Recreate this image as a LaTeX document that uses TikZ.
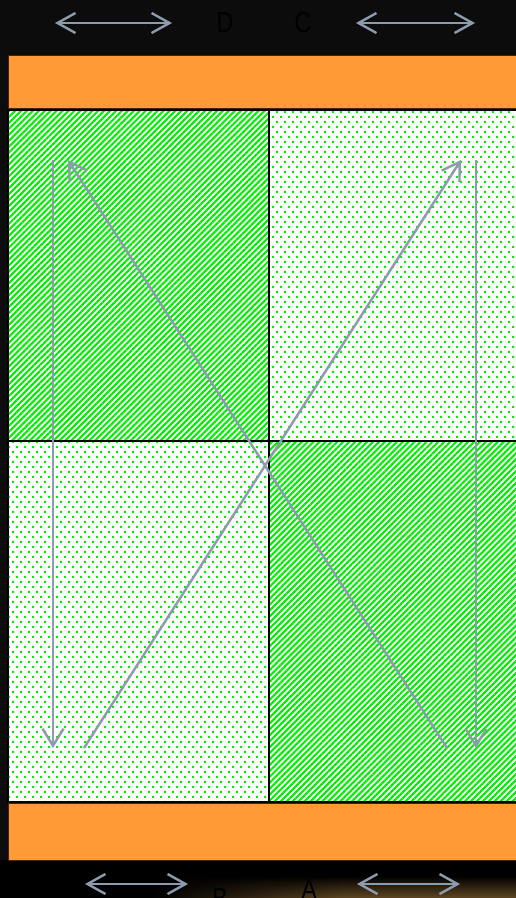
\documentclass[tikz,border=0pt]{standalone}
\usepackage{xcolor}
\usepackage{fontspec}
\setmainfont{Liberation Sans}
\usepackage{tikz}
\usetikzlibrary{arrows.meta, patterns, patterns.meta, fadings}

\definecolor{bgdark}{HTML}{0C0C0C}
\definecolor{bandorange}{HTML}{FF9A36}
\definecolor{cellgreen}{HTML}{00EE00}
\definecolor{arrowgray}{HTML}{8C9BAE}
\definecolor{glow}{HTML}{5E4622}

\pgfdeclarepatternformonly{greendots}{\pgfqpoint{-1pt}{-1pt}}{\pgfqpoint{9pt}{11pt}}{\pgfqpoint{8pt}{10pt}}{%
\pgfpathrectangle{\pgfqpoint{0pt}{0pt}}{\pgfqpoint{2.2pt}{2.2pt}}%
\pgfpathrectangle{\pgfqpoint{4pt}{5pt}}{\pgfqpoint{2.2pt}{2.2pt}}%
\pgfusepath{fill}}

\tikzset{
  stripecell/.style={fill=white, postaction={pattern={Lines[angle=45, distance=4.2pt, line width=2.1pt]}, pattern color=cellgreen}},
  dotcell/.style={fill=white, postaction={pattern=greendots, pattern color=cellgreen}},
  band/.style={fill=bandorange, draw=black!75!bandorange, line width=0.8pt},
  flow/.style={draw=arrowgray, line width=2.4pt, -{Straight Barb[length=17pt, width=21pt]}},
  swap/.style={draw=arrowgray, line width=2.4pt, {Straight Barb[length=18pt, width=20pt]}-{Straight Barb[length=18pt, width=20pt]}},
  letter/.style={text=black, font=\fontsize{29}{29}\selectfont, xscale=0.8, inner sep=0pt}
}

\begin{document}
\begin{tikzpicture}[x=1pt, y=-1pt]
\useasboundingbox (0,0) rectangle (516,898);
\fill[bgdark] (0,0) rectangle (516,898);
\fill[black] (0,860) rectangle (516,898);
\shade[top color=black, bottom color=glow] (150,876) rectangle (516,898);
\fill[black, path fading=east] (150,870) rectangle (340,898);

\draw[band] (8,55) rectangle (518,108);
\draw[band] (8,803) rectangle (518,860);

\foreach \xa/\ya/\xb/\yb/\kind in {8/110/269/441/stripecell, 269/110/518/441/dotcell, 8/441/269/802/dotcell, 269/441/518/802/stripecell}
  \fill[\kind] (\xa,\ya) rectangle (\xb,\yb);
\draw[line width=2pt] (8,110) rectangle (518,802);
\draw[line width=2pt] (269,110) -- (269,802);
\draw[line width=2pt] (8,441) -- (518,441);

\coordinate (downLtop) at (53,160);
\coordinate (downLbot) at (53,748);
\coordinate (backTop) at (68,160);
\coordinate (backBot) at (447,748);
\coordinate (fwdBot) at (84,748);
\coordinate (fwdTop) at (461,160);
\coordinate (downRtop) at (476,160);
\coordinate (downRbot) at (476,748);

\draw[flow] (downLtop) -- (downLbot);
\draw[flow] (backBot) -- (backTop);
\draw[flow] (fwdBot) -- (fwdTop);
\draw[flow] (downRtop) -- (downRbot);

\coordinate (topA1) at (55,23);
\coordinate (topA2) at (172,23);
\coordinate (topB1) at (356,23);
\coordinate (topB2) at (475,23);
\coordinate (botA1) at (85,884);
\coordinate (botA2) at (188,884);
\coordinate (botB1) at (357,884);
\coordinate (botB2) at (460,884);
\draw[swap] (topA1) -- (topA2);
\draw[swap] (topB1) -- (topB2);
\draw[swap] (botA1) -- (botA2);
\draw[swap] (botB1) -- (botB2);

\node[letter] (labD) at (225,23) {D};
\node[letter] (labC) at (303,23) {C};
\node[letter] (labB) at (220,899) {B};
\node[letter] (labA) at (309,890) {A};
\end{tikzpicture}
\end{document}
